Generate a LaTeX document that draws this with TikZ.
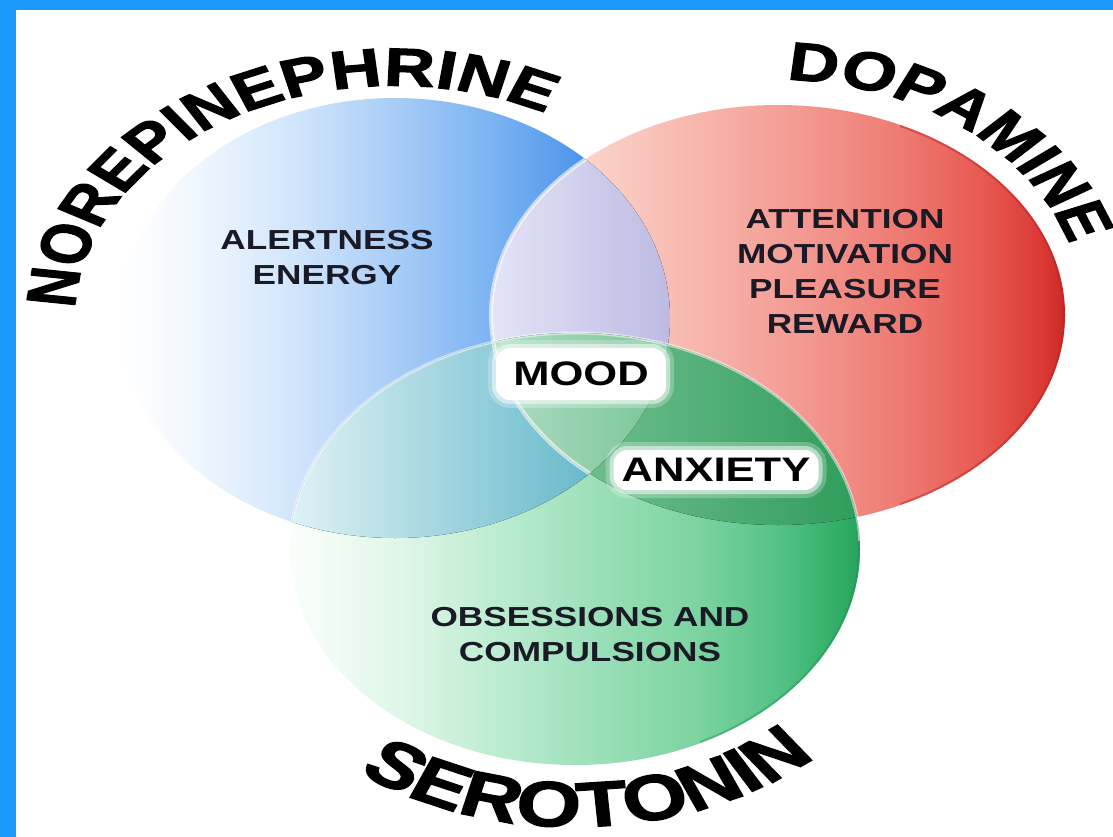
\documentclass[tikz,border=0pt]{standalone}
\usepackage{fontspec}
\setmainfont{Liberation Sans}
\newfontfamily\heavyfont[FakeBold=1.8]{Liberation Sans}
\usepackage{graphicx}
\usetikzlibrary{decorations.text}
\definecolor{frame}{RGB}{28,154,252}
\definecolor{labelc}{HTML}{1A1A26}
% blue
\definecolor{bA}{HTML}{FAFCFF}\definecolor{bB}{HTML}{EEF6FE}\definecolor{bC}{HTML}{CFE4FB}
\definecolor{bD}{HTML}{A6CBF7}\definecolor{bE}{HTML}{78B1F2}\definecolor{bF}{HTML}{4E96EB}
\definecolor{bG}{HTML}{3789E6}\definecolor{bH}{HTML}{2C80E2}
% red
\definecolor{rA}{HTML}{FCE6DE}\definecolor{rB}{HTML}{FCE3DA}\definecolor{rC}{HTML}{FAD0C6}
\definecolor{rD}{HTML}{F7B5AC}\definecolor{rE}{HTML}{F39A92}\definecolor{rF}{HTML}{EE7B72}
\definecolor{rG}{HTML}{E85A52}\definecolor{rH}{HTML}{DB3A35}\definecolor{rI}{HTML}{CC2A28}
% green
\definecolor{gA}{HTML}{FAFEFB}\definecolor{gB}{HTML}{E0F6E8}\definecolor{gC}{HTML}{BBECCF}
\definecolor{gD}{HTML}{9ADFB8}\definecolor{gE}{HTML}{7BD3A0}\definecolor{gF}{HTML}{53C285}
\definecolor{gG}{HTML}{30AD66}\definecolor{gH}{HTML}{27A25D}
% overlaps
\definecolor{lavL}{HTML}{E6E4F7}\definecolor{lavR}{HTML}{BCBAE2}
\definecolor{tealL}{HTML}{E0F2F5}\definecolor{tealR}{HTML}{48AAC0}
\definecolor{rgL}{HTML}{84CA9F}\definecolor{rgR}{HTML}{2F9C5A}
\definecolor{triL}{HTML}{B0DEC4}\definecolor{triR}{HTML}{78C497}
\definecolor{redrim}{HTML}{B82020}
\definecolor{greenrim}{HTML}{1E8E4C}
\pgfdeclarehorizontalshading{blueshade}{100bp}{color(0bp)=(white); color(25bp)=(white); color(28bp)=(bA); color(32.3bp)=(bB); color(41.4bp)=(bC); color(50.5bp)=(bD); color(59.5bp)=(bE); color(66.8bp)=(bF); color(72.3bp)=(bG); color(75bp)=(bH); color(100bp)=(bH)}
\pgfdeclarehorizontalshading{redshade}{100bp}{color(0bp)=(rA); color(25bp)=(rA); color(27.5bp)=(rB); color(34.5bp)=(rC); color(43.2bp)=(rD); color(51.9bp)=(rE); color(60.6bp)=(rF); color(67.6bp)=(rG); color(72.8bp)=(rH); color(75bp)=(rI); color(100bp)=(rI)}
\pgfdeclarehorizontalshading{greenshade}{100bp}{color(0bp)=(gA); color(25bp)=(gA); color(34.6bp)=(gB); color(43.4bp)=(gC); color(52.2bp)=(gD); color(61bp)=(gE); color(68bp)=(gF); color(73.2bp)=(gG); color(75bp)=(gH); color(100bp)=(gH)}
\newcommand\sx[1]{\scalebox{1.28}[1]{#1}}
\newcommand\curvefontA{\heavyfont\fontsize{54}{60}\selectfont\bfseries}
\newcommand\curvefontB{\heavyfont\fontsize{64}{70}\selectfont\bfseries}
\tikzset{
  lbl/.style={font=\fontsize{27.5}{35}\selectfont\bfseries, text=labelc, align=center, inner sep=0pt},
  glowbox/.style={font=\fontsize{34}{40}\selectfont\bfseries, text=black, fill=white,
    rounded corners=14pt, inner sep=0pt,
    preaction={draw=white, line width=16pt, draw opacity=0.25},
    preaction={draw=white, line width=8pt, draw opacity=0.5}},
  curved/.style={decorate, decoration={text along path, text align=center, text color=black}}
}
\begin{document}
\begin{tikzpicture}[x=1pt,y=-1pt]
\useasboundingbox (0,0) rectangle (1113,837);
\fill[white] (0,0) rectangle (1113,837);
\fill[frame] (0,0) rectangle (1113,10);
\fill[frame] (0,0) rectangle (16,837);

% circles
\shade[shading=blueshade] (395,318) ellipse [x radius=275, y radius=220];
\shade[shading=redshade] (778,315) ellipse [x radius=287, y radius=210];
\shade[shading=greenshade] (575,549) ellipse [x radius=285, y radius=216];

% darker outer rims on the right sides
\begin{scope}
  \clip (900,0) rectangle (1113,837);
  \draw[redrim, line width=2pt, draw opacity=0.45] (778,315) ellipse [x radius=286, y radius=209];
\end{scope}
\begin{scope}
  \clip (700,520) rectangle (900,837);
  \draw[greenrim, line width=2pt, draw opacity=0.4] (575,549) ellipse [x radius=284, y radius=215];
\end{scope}

% blue & red
\begin{scope}
  \clip (395,318) ellipse [x radius=275, y radius=220];
  \clip (778,315) ellipse [x radius=287, y radius=210];
  \fill[left color=lavL, right color=lavR] (488,90) rectangle (672,360);
\end{scope}
% blue & green
\begin{scope}
  \clip (395,318) ellipse [x radius=275, y radius=220];
  \clip (575,549) ellipse [x radius=285, y radius=216];
  \fill[left color=tealL, right color=tealR] (288,325) rectangle (672,545);
\end{scope}
% red & green
\begin{scope}
  \clip (778,315) ellipse [x radius=287, y radius=210];
  \clip (575,549) ellipse [x radius=285, y radius=216];
  \fill[left color=rgL, right color=rgR] (488,325) rectangle (862,530);
\end{scope}
% all three
\begin{scope}
  \clip (395,318) ellipse [x radius=275, y radius=220];
  \clip (778,315) ellipse [x radius=287, y radius=210];
  \clip (575,549) ellipse [x radius=285, y radius=216];
  \fill[left color=triL, right color=triR] (488,325) rectangle (672,530);
\end{scope}
% light rims on inner edges
\begin{scope}
  \clip (395,318) ellipse [x radius=275, y radius=220];
  \draw[white, line width=4pt, draw opacity=0.6] (778,315) ellipse [x radius=287, y radius=210];
\end{scope}
\begin{scope}
  \clip (0,0) rectangle (1113,540);
  \draw[white, line width=3pt, draw opacity=0.5] (575,549) ellipse [x radius=285, y radius=216];
\end{scope}

% labels
\node[lbl] (ne) at (327,258) {\sx{ALERTNESS}\\\sx{ENERGY}};
\node[lbl] (da) at (845,271) {\sx{ATTENTION}\\\sx{MOTIVATION}\\\sx{PLEASURE}\\\sx{REWARD}};
\node[lbl] (se) at (590,635) {\sx{OBSESSIONS AND}\\\sx{COMPULSIONS}};
\node[glowbox, minimum width=170pt, minimum height=52pt] (mood) at (581,374) {\sx{MOOD}};
\node[glowbox, minimum width=205pt, minimum height=40pt] (anx) at (716,470) {\sx{ANXIETY}};

% curved titles
\begin{scope}[transform canvas={xscale=1.3}]
  \path[curved, decoration={text={|\curvefontA|NOREPINEPHRINE}}]
    (303.8,318) ++(171:246 and 232) arc[start angle=171, end angle=309, x radius=246, y radius=232];
  \path[curved, decoration={text={|\curvefontA|DOPAMINE}}]
    (598.5,315) ++(262:235 and 235) arc[start angle=262, end angle=352, x radius=235, y radius=235];
  \path[curved, decoration={text={|\curvefontB|SEROTONIN}}]
    (442,547) ++(132:280 and 280) arc[start angle=132, end angle=43, x radius=280, y radius=280];
\end{scope}
\end{tikzpicture}
\end{document}
